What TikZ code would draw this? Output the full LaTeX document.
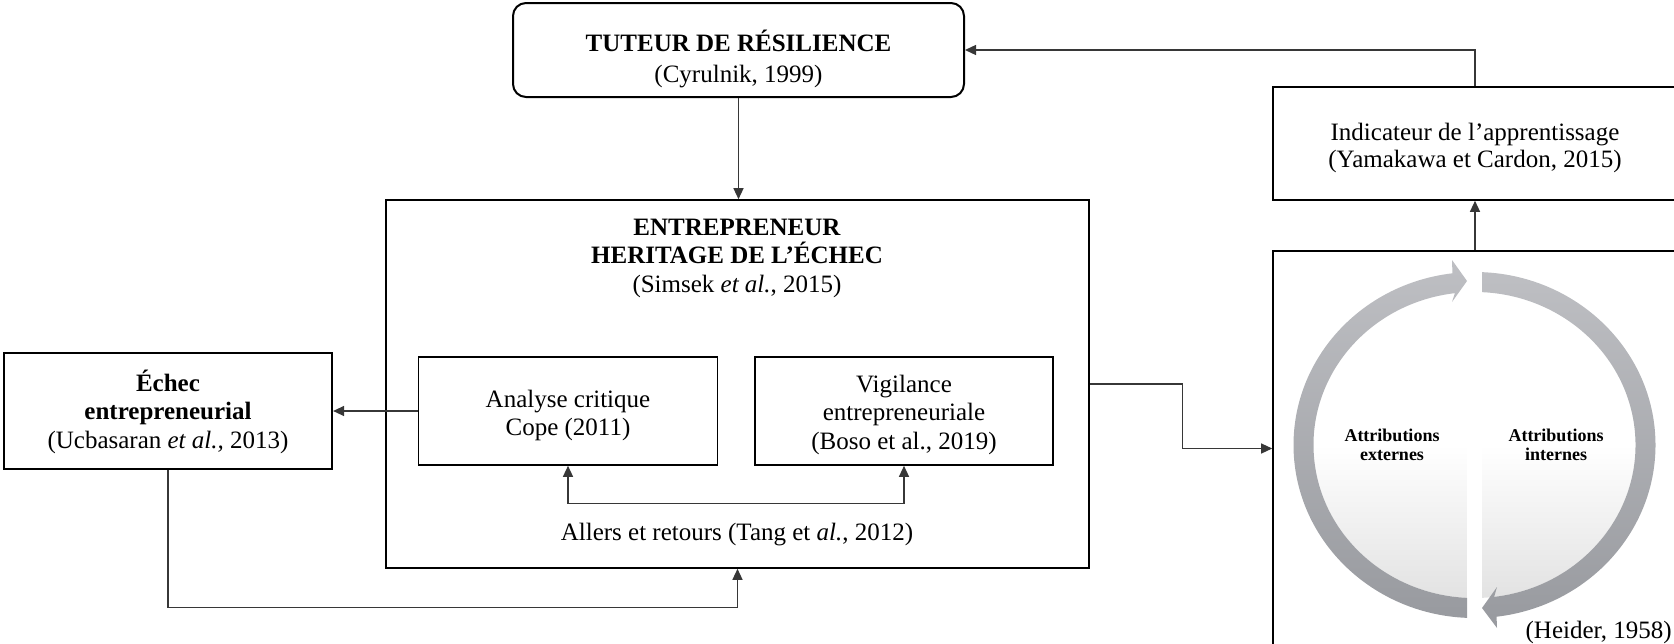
\documentclass[tikz,border=0pt]{standalone}
\usepackage{fontspec}
\setmainfont{Liberation Serif}
\usetikzlibrary{arrows.meta,calc}
\definecolor{ringtop}{RGB}{190,191,195}
\definecolor{ringbot}{RGB}{152,154,159}
\definecolor{fillbot}{RGB}{226,226,226}
\definecolor{connc}{RGB}{55,55,55}
\newcommand{\mystrut}{\rule{0pt}{25pt}}
\newcommand{\smstrut}{\rule{0pt}{18pt}}
\begin{document}
\begin{tikzpicture}[x=1pt,y=-1pt,
  box/.style={draw=black,line width=1.6pt,inner sep=0pt},
  txt/.style={inner sep=0pt,align=center,anchor=north,font=\fontsize{25}{28.5}\selectfont},
  smtxt/.style={inner sep=0pt,align=center,anchor=north,font=\bfseries\fontsize{18}{19.3}\selectfont},
  tip/.style={Triangle[length=11pt,width=10pt]},
  conn/.style={draw=connc,line width=1.3pt,-{Triangle[length=11pt,width=10pt]}},
  conn2/.style={draw=connc,line width=1.3pt,{Triangle[length=11pt,width=10pt]}-{Triangle[length=11pt,width=10pt]}},
 ]
\useasboundingbox (0,0) rectangle (1674,643);
\begin{scope}
\clip (0,0) rectangle (1674,643);
% boxes
\node[box,line width=2pt,rounded corners=13pt,minimum width=451pt,minimum height=94pt] (tut) at (738.5,50) {};
\node[box,minimum width=703pt,minimum height=368pt] (ent) at (737.5,384) {};
\node[box,minimum width=299pt,minimum height=108pt] (ana) at (568,411) {};
\node[box,minimum width=298pt,minimum height=108pt] (vig) at (904,411) {};
\node[box,line width=2.2pt,minimum width=328pt,minimum height=116pt] (ech) at (168,411) {};
\node[box,minimum width=404pt,minimum height=113pt] (ind) at (1475,143.5) {};
\node[box,minimum width=404pt,minimum height=395pt] (rb) at (1475,448.5) {};

% texts
\node[txt] (tutT) at (738.5,26) {\mystrut\textbf{TUTEUR DE RÉSILIENCE}\\[2.5pt](Cyrulnik, 1999)};
\node[txt] (entT) at (737,210) {\mystrut\textbf{ENTREPRENEUR}\\\textbf{HERITAGE DE L’ÉCHEC}\\(Simsek \textit{et al.}, 2015)};
\node[txt] (anaT) at (568,382) {\mystrut Analyse critique\\Cope (2011)};
\node[txt] (vigT) at (904,367) {\mystrut Vigilance\\entrepreneuriale\\(Boso et al., 2019)};
\node[txt] (echT) at (168,366) {\mystrut\textbf{Échec}\\\textbf{entrepreneurial}\\(Ucbasaran \textit{et al.,} 2013)};
\node[txt,font=\fontsize{25}{27}\selectfont] (indT) at (1475,115) {\mystrut Indicateur de l’apprentissage\\(Yamakawa et Cardon, 2015)};
\node[txt] (allT) at (737,515) {\mystrut Allers et retours (Tang et \textit{al.}, 2012)};

% connectors
\draw[conn] (tut.south) -- (tut.south |- ent.north);
\draw[conn] (ana.west) -- (ech.east);
\draw[conn] (ech.south) |- ([yshift=-39pt]ent.south) -- (ent.south);
\draw[conn2] (ana.south) -- ++(0,38) -| (vig.south);
\draw[conn] (ent.east) -- ++(93,0) |- (rb.west);
\draw[conn] (rb.north) -- (ind.south);
\draw[conn] (ind.north) |- (tut.east);

% cycle
\coordinate (c) at (1474.5,445);
\begin{scope}
\clip (c) ellipse[x radius=161,y radius=153];
\shade[top color=white,bottom color=fillbot] (1290,445) rectangle (1660,600);
\end{scope}
\fill[white] ($(c)+(-7.5,0)$) rectangle ($(c)+(7.5,160)$);
\begin{scope}
\clip (1280,250) rectangle ($(c)+(-7.5,200)$);
\shade[top color=ringtop,bottom color=ringbot]
  ($(c)+(88:181 and 173)$) arc[start angle=88,end angle=263,x radius=181,y radius=173]
  -- ($(c)+(-22.5,-185)$) -- ($(c)+(-7.5,-164)$) -- ($(c)+(-22.5,-143)$)
  -- ($(c)+(263:161 and 153)$) arc[start angle=263,end angle=88,x radius=161,y radius=153] -- cycle;
\end{scope}
\begin{scope}
\clip ($(c)+(7.5,-200)$) rectangle (1670,640);
\shade[top color=ringtop,bottom color=ringbot]
  ($(c)+(268:181 and 173)$) arc[start angle=268,end angle=443,x radius=181,y radius=173]
  -- ($(c)+(22.5,183)$) -- ($(c)+(7.5,163)$) -- ($(c)+(22.5,142)$)
  -- ($(c)+(443:161 and 153)$) arc[start angle=443,end angle=268,x radius=161,y radius=153] -- cycle;
\end{scope}
\node[smtxt] (attE) at (1392,423) {\smstrut Attributions\\externes};
\node[smtxt] (attI) at (1556,423) {\smstrut Attributions\\internes};
\node[anchor=base east,inner sep=0pt,font=\fontsize{25}{28.5}\selectfont] (heid) at (1672,638) {(Heider, 1958)};
\end{scope}
\end{tikzpicture}
\end{document}
